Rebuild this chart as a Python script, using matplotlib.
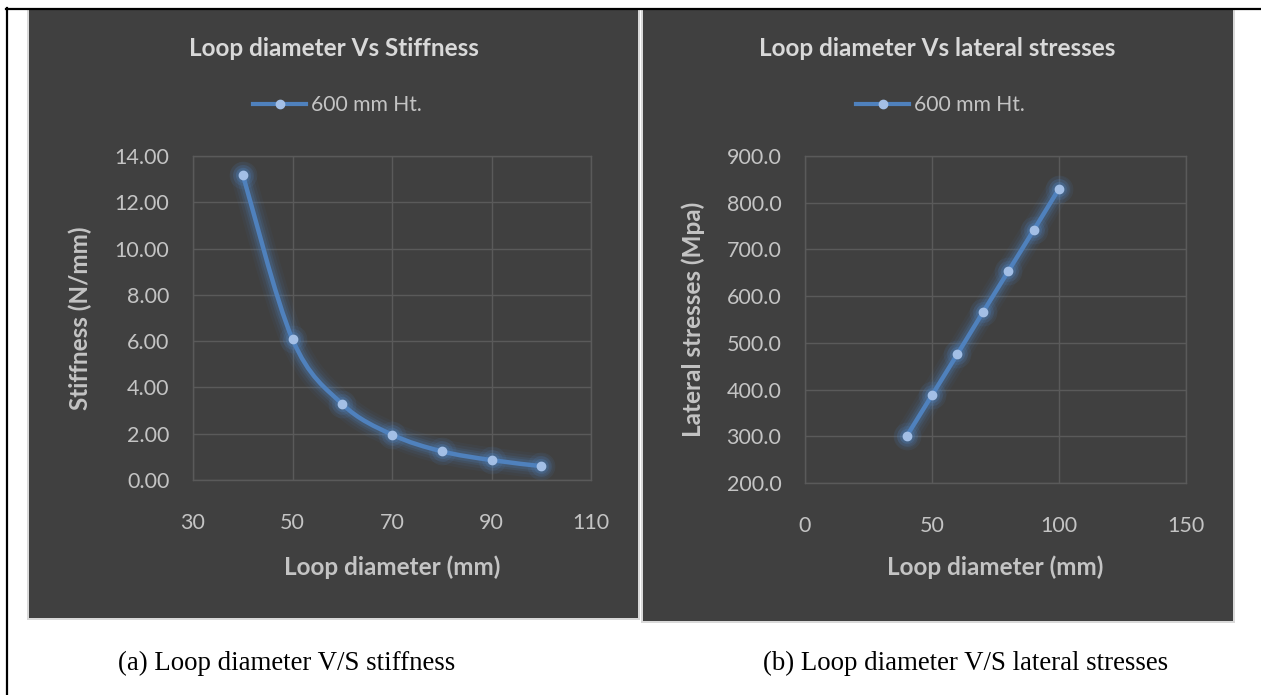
import matplotlib
matplotlib.use("Agg")
import matplotlib.pyplot as plt
from matplotlib.path import Path
from matplotlib.patches import PathPatch, Rectangle
from matplotlib.lines import Line2D
import numpy as np

# ---------------- data ----------------
loop_diameter = [40, 50, 60, 70, 80, 90, 100]
stiffness = [13.20, 6.08, 3.28, 1.96, 1.24, 0.86, 0.60]
lateral_stress = [300.0, 388.0, 476.0, 565.0, 653.0, 741.0, 830.0]
series_name = "600 mm Ht."

left_title = "Loop diameter Vs Stiffness"
right_title = "Loop diameter Vs lateral stresses"
x_label = "Loop diameter (mm)"
left_ylabel = "Stiffness (N/mm)"
right_ylabel = "Lateral stresses (Mpa)"
left_xticks = [30, 50, 70, 90, 110]
left_yticks = [0, 2, 4, 6, 8, 10, 12, 14]
right_xticks = [0, 50, 100, 150]
right_yticks = [200, 300, 400, 500, 600, 700, 800, 900]
caption_a = "(a) Loop diameter V/S stiffness"
caption_b = "(b) Loop diameter V/S lateral stresses"

# ---------------- style ----------------
W, H = 1261, 695
BG = "#404040"
GRID = "#5a5a5a"
TXT = "#d9d9d9"
TICK = "#c4c4c4"
LINE = "#4f81bd"
MFILL = "#a3bfe6"
SANS = ["Lato", "DejaVu Sans"]
LABEL_FS = 17.5
TICK_FS = 15.5

fig = plt.figure(figsize=(W / 100, H / 100), dpi=100)
fig.patch.set_facecolor("white")


def fx(x):
    return x / W


def fy(y):
    return 1 - y / H


def panel(x0, y0, x1, y1):
    fig.patches.append(Rectangle((fx(x0 - 2), fy(y1 + 2)), fx(x1 - x0 + 4), (y1 - y0 + 4) / H,
                                 transform=fig.transFigure, facecolor="#d9d9d9",
                                 edgecolor="none", zorder=-20))
    fig.patches.append(Rectangle((fx(x0), fy(y1)), fx(x1 - x0), (y1 - y0) / H,
                                 transform=fig.transFigure, facecolor=BG,
                                 edgecolor="none", zorder=-19))


panel(29, 10, 638, 618)
panel(643, 10, 1233, 621)

# black frame lines
fig.add_artist(Line2D([fx(6), fx(1261)], [fy(8.5), fy(8.5)], color="black", lw=1.6,
                      transform=fig.transFigure))
fig.add_artist(Line2D([fx(7), fx(7)], [fy(8), fy(695)], color="black", lw=1.6,
                      transform=fig.transFigure))


def smooth_path(x, y):
    x = np.asarray(x, float)
    y = np.asarray(y, float)
    pts = np.column_stack([x, y])
    n = len(pts)
    verts = [pts[0]]
    codes = [Path.MOVETO]
    for i in range(n - 1):
        p0 = pts[i - 1] if i > 0 else pts[i]
        p1 = pts[i]
        p2 = pts[i + 1]
        p3 = pts[i + 2] if i + 2 < n else pts[i + 1]
        c1 = p1 + (p2 - p0) / 6.0
        c2 = p2 - (p3 - p1) / 6.0
        verts += [c1, c2, p2]
        codes += [Path.CURVE4] * 3
    return Path(verts, codes)


def make_axes(box, x, y, xlim, ylim, xticks, yticks, yfmt, title, ylabel,
              title_x, legend_x, ylabel_x):
    x0, y0, x1, y1 = box
    ax = fig.add_axes([fx(x0), fy(y1), fx(x1 - x0), (y1 - y0) / H])
    ax.set_facecolor(BG)
    ax.patch.set_alpha(0)
    ax.set_xlim(*xlim)
    ax.set_ylim(*ylim)
    ax.set_xticks(xticks)
    ax.set_yticks(yticks)
    ax.set_yticklabels([yfmt.format(v) for v in yticks])
    ax.grid(True, color=GRID, lw=1.0)
    ax.set_axisbelow(True)
    for s in ax.spines.values():
        s.set_color(GRID)
        s.set_linewidth(1.0)
    ax.tick_params(length=0, colors=TICK, labelsize=TICK_FS)
    ax.tick_params(axis="y", pad=17)
    ax.tick_params(axis="x", pad=24)
    for lab in ax.get_xticklabels() + ax.get_yticklabels():
        lab.set_family(SANS)

    path = smooth_path(x, y)
    for lw, a in [(18, 0.06), (14, 0.09), (10, 0.14), (7, 0.2)]:
        ax.add_patch(PathPatch(path, facecolor="none", edgecolor=LINE, lw=lw, alpha=a,
                               capstyle="round", joinstyle="round", zorder=2))
    ax.add_patch(PathPatch(path, facecolor="none", edgecolor=LINE, lw=3.2, zorder=3,
                           capstyle="round"))
    for ms, a in [(20, 0.10), (15, 0.16), (11, 0.22)]:
        ax.plot(x, y, linestyle="none", marker="o", ms=ms, mfc=LINE, mec="none",
                alpha=a, zorder=3)
    ax.plot(x, y, linestyle="none", marker="o", ms=6, mfc=MFILL, mec=MFILL, zorder=4)

    handle = Line2D([], [], color=LINE, lw=3, marker="o", ms=6, mfc=MFILL, mec=MFILL)
    ax.legend([handle], [series_name], loc="center", frameon=False,
              bbox_to_anchor=(fx(legend_x), fy(105)), bbox_transform=fig.transFigure,
              prop={"family": SANS, "size": 15.2}, labelcolor=TICK,
              handlelength=2.55, handletextpad=0.2)

    fig.text(fx(title_x), fy(48), title, ha="center", va="center", color=TXT,
             fontsize=LABEL_FS, fontweight="bold", family=SANS)
    fig.text(fx(ylabel_x), fy((y0 + y1) / 2), ylabel, ha="center", va="center",
             rotation=90, color=TICK, fontsize=LABEL_FS, fontweight="bold", family=SANS)
    fig.text(fx((x0 + x1) / 2), fy(567), x_label, ha="center", va="center", color=TICK,
             fontsize=LABEL_FS, fontweight="bold", family=SANS)
    return ax


make_axes((193, 156, 591, 480), loop_diameter, stiffness, (30, 110), (0, 14),
          left_xticks, left_yticks, "{:.2f}", left_title, left_ylabel,
          334, 337, 80)
make_axes((805, 156, 1186, 483), loop_diameter, lateral_stress, (0, 150), (200, 900),
          right_xticks, right_yticks, "{:.1f}", right_title, right_ylabel,
          937, 940, 693)

fig.text(fx(287), fy(663), caption_a, ha="center", va="center", color="black",
         fontsize=19.4, family=["Liberation Serif", "DejaVu Serif"])
fig.text(fx(966), fy(663), caption_b, ha="center", va="center", color="black",
         fontsize=19.4, family=["Liberation Serif", "DejaVu Serif"])

fig.savefig("out.png", dpi=100, facecolor="white")
